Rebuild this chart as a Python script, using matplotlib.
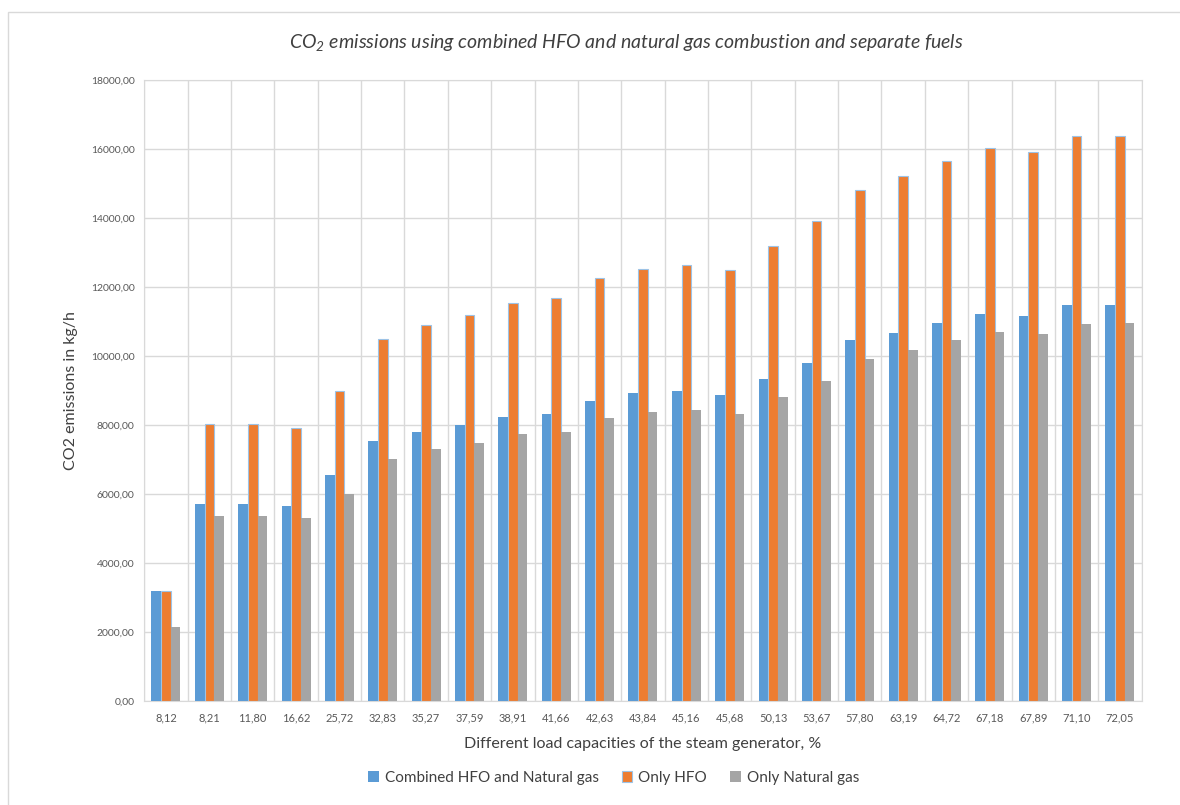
import numpy as np
import matplotlib
matplotlib.use("Agg")
import matplotlib.pyplot as plt
from matplotlib.patches import Rectangle

plt.rcParams['font.family'] = ['Lato', 'DejaVu Sans']
plt.rcParams['mathtext.fontset'] = 'custom'
plt.rcParams['mathtext.rm'] = 'Lato:italic'
plt.rcParams['mathtext.it'] = 'Lato:italic'

# load capacities (x categories)
loads = ["8,12", "8,21", "11,80", "16,62", "25,72", "32,83", "35,27", "37,59",
         "38,91", "41,66", "42,63", "43,84", "45,16", "45,68", "50,13", "53,67",
         "57,80", "63,19", "64,72", "67,18", "67,89", "71,10", "72,05"]

combined = [3180, 5720, 5720, 5640, 6540, 7530, 7810, 8000, 8240, 8330, 8710,
            8930, 8980, 8870, 9330, 9790, 10450, 10670, 10970, 11220, 11170,
            11470, 11470]
only_hfo = [3200, 8020, 8020, 7910, 9000, 10480, 10900, 11200, 11550, 11680,
            12250, 12520, 12640, 12480, 13190, 13900, 14820, 15220, 15650,
            16030, 15900, 16370, 16370]
only_ng = [2140, 5370, 5370, 5300, 6000, 7010, 7290, 7480, 7730, 7810, 8190,
           8380, 8440, 8320, 8810, 9290, 9910, 10160, 10450, 10690, 10630,
           10930, 10960]

series_names = ["Combined HFO and Natural gas", "Only HFO", "Only Natural gas"]
colors = ["#5B9BD5", "#ED7D31", "#A5A5A5"]

fig = plt.figure(figsize=(11.8, 8.05), dpi=100)
ax = fig.add_axes([0.1223, 0.1292, 0.9675 - 0.1223, 0.9006 - 0.1292])

# outer chart border
fig.patches.append(Rectangle((0.0068, -0.02), 1.1, 1.005, transform=fig.transFigure,
                             fill=False, edgecolor="#D9D9D9", lw=1.0))

x = np.arange(len(loads))
w = 0.223
ax.bar(x - w, combined, w, color=colors[0], label=series_names[0], zorder=3)
ax.bar(x, only_hfo, w, color=colors[1], edgecolor="#9DC3E6", linewidth=0.8,
       label=series_names[1], zorder=3)
ax.bar(x + w, only_ng, w, color=colors[2], label=series_names[2], zorder=3)

ax.set_xlim(-0.5, len(loads) - 0.5)
ax.set_ylim(0, 18000)
ax.set_yticks(np.arange(0, 18001, 2000))
ax.set_yticklabels([f"{v},00" for v in range(0, 18001, 2000)])
ax.set_xticks(x)
ax.set_xticklabels(loads)

# vertical gridlines at category boundaries
for b in np.arange(-0.5, len(loads) + 0.5, 1):
    ax.axvline(b, color="#D9D9D9", lw=1.0, zorder=1)
ax.yaxis.grid(True, color="#D9D9D9", lw=1.0, zorder=1)
ax.set_axisbelow(True)

for s in ax.spines.values():
    s.set_color("#D9D9D9")
ax.tick_params(length=0, colors="#595959")
ax.tick_params(axis="y", labelsize=7.5, pad=7)
ax.tick_params(axis="x", labelsize=8, pad=8)

ax.set_ylabel("CO2 emissions in kg/h", fontsize=11.5, color="#404040", labelpad=9)
ax.set_xlabel("Different load capacities of the steam generator, %", fontsize=11.5,
              color="#404040", labelpad=10)

fig.text(0.531, 0.947, "CO$_2$ emissions using combined HFO and natural gas combustion and separate fuels",
         ha="center", va="center", fontsize=14, style="italic", color="#404040")

leg = fig.legend(loc="center", bbox_to_anchor=(0.52, 0.034), ncol=3, frameon=False,
                 fontsize=11, handlelength=0.7, handleheight=0.7, handletextpad=0.4,
                 columnspacing=1.5)
for t in leg.get_texts():
    t.set_color("#404040")

fig.savefig("out.png", dpi=100)
